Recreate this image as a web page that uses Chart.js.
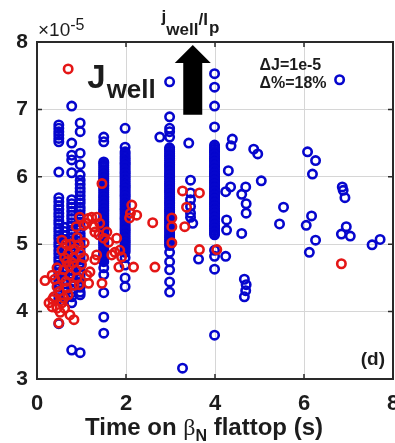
<!DOCTYPE html>
<html>
<head>
<meta charset="utf-8">
<script src="https://cdn.jsdelivr.net/npm/chart.js@4.4.1/dist/chart.umd.min.js"></script>
<style>
  html, body { margin: 0; padding: 0; background: #fff; }
  #wrap { width: 395px; height: 443px; position: relative; }
</style>
</head>
<body>
<div id="wrap"><canvas id="c"></canvas></div>
<script>
// Current-well depth J_well (in units of 1e-5) versus time spent on the beta_N flattop (s).

// Blue shots
const blueTime = [
  0.49,0.49,0.49,0.49,0.49,0.49,0.49,0.49,0.49,0.49,0.49,0.49,0.49,0.49,0.49,0.49,0.49,0.49,0.49,0.49,
  0.49,0.49,0.49,0.49,0.49,0.49,0.49,0.49,0.49,0.49,0.49,0.49,0.49,0.49,0.49,0.49,
  0.62,0.62,0.62,0.62,0.62,0.62,0.62,0.62,0.62,0.62,0.62,0.62,0.62,0.62,0.62,0.62,
  0.78,0.78,0.78,0.78,0.78,0.78,0.78,0.78,0.78,0.78,0.78,0.78,0.78,0.78,0.78,0.78,0.78,0.78,0.78,0.78,
  0.78,0.78,0.78,0.78,0.78,0.78,0.78,0.78,0.78,0.78,0.78,0.78,0.78,0.78,
  0.97,0.97,0.97,0.97,0.97,0.97,0.97,0.97,0.97,0.97,0.97,0.97,0.97,0.97,0.97,0.97,0.97,0.97,0.97,0.97,
  0.97,0.97,0.97,0.97,0.97,0.97,0.97,0.97,0.97,0.97,0.97,0.97,0.97,0.97,0.97,0.97,0.97,
  1.50,1.50,1.50,1.50,1.50,1.50,1.50,1.50,1.50,1.50,1.50,1.50,1.50,1.50,1.50,1.50,1.50,1.50,1.50,1.50,
  1.50,1.50,1.50,1.50,1.50,1.50,1.50,1.50,1.50,1.50,1.50,1.50,1.50,1.50,
  1.50,1.50,1.50,1.50,1.50,1.50,1.50,1.50,1.50,1.50,1.50,1.50,1.50,1.50,1.50,1.50,1.50,1.50,1.50,1.50,
  1.50,1.50,1.50,1.50,1.50,1.50,
  1.98,1.98,1.98,1.98,1.98,1.98,1.98,1.98,1.98,1.98,1.98,1.98,1.98,1.98,1.98,1.98,1.98,1.98,1.98,1.98,
  1.98,1.98,1.98,1.98,1.98,1.98,1.98,1.98,1.98,1.98,1.98,1.98,1.98,
  1.98,1.98,1.98,1.98,1.98,1.98,1.98,1.98,1.98,1.98,1.98,1.98,1.98,1.98,1.98,1.98,1.98,1.98,1.98,1.98,
  1.98,1.98,1.98,1.98,1.98,1.98,
  2.98,2.98,2.98,2.98,2.98,2.98,2.98,2.98,2.98,2.98,2.98,2.98,2.98,2.98,2.98,2.98,2.98,2.98,2.98,2.98,
  2.98,2.98,2.98,2.98,2.98,2.98,2.98,2.98,2.98,2.98,2.98,2.98,2.98,2.98,2.98,2.98,2.98,
  2.98,2.98,2.98,2.98,2.98,2.98,2.98,2.98,2.98,2.98,2.98,2.98,2.98,2.98,2.98,2.98,2.98,2.98,2.98,2.98,
  2.98,2.98,2.98,2.98,2.98,2.98,
  3.99,3.99,3.99,3.99,3.99,3.99,3.99,3.99,3.99,3.99,3.99,3.99,3.99,3.99,3.99,3.99,3.99,3.99,3.99,3.99,
  3.99,3.99,3.99,3.99,3.99,3.99,3.99,3.99,3.99,3.99,3.99,3.99,3.99,
  3.99,3.99,3.99,3.99,3.99,3.99,3.99,3.99,3.99,3.99,3.99,3.99,3.99,3.99,3.99,3.99,3.99,3.99,3.99,3.99,
  3.99,3.99,3.99,3.99,
  3.41,3.45,3.45,3.45,3.45,3.45,3.45,3.50,
  2.76,4.39,4.36,4.87,4.96,4.30,5.04,4.35,4.69,4.24,4.60,4.70,4.70,5.54,
  6.08,6.26,6.19,6.86,6.88,6.92,6.17,6.05,5.45,6.26,6.12,6.95,6.84,7.04,7.53,7.71,
  4.26,4.26,4.60,3.63,4.24,4.66,4.69,4.66,4.70,3.27,6.80
];
const blueJ = [
  6.77,6.72,6.67,6.62,6.57,6.52,6.07,5.69,5.63,5.57,5.52,5.46,5.41,5.35,5.30,5.24,5.19,5.13,5.08,5.02,
  4.97,4.91,4.86,4.80,4.75,4.69,4.64,4.58,4.53,4.47,4.42,4.36,4.31,4.25,4.19,3.82,
  5.25,5.19,5.13,5.07,5.01,4.95,4.89,4.83,4.77,4.71,4.65,4.59,4.53,4.47,4.41,4.35,
  7.05,6.50,6.32,6.25,6.06,5.66,5.60,5.55,5.49,5.43,5.38,5.32,5.27,5.21,5.16,5.10,5.05,4.99,4.94,4.88,
  4.83,4.77,4.72,4.66,4.61,4.55,4.50,4.44,4.39,4.33,4.28,4.22,4.13,3.43,
  6.80,6.67,6.35,6.18,6.03,5.95,5.89,5.83,5.78,5.72,5.66,5.61,5.55,5.50,5.44,5.38,5.33,5.27,5.22,5.16,
  5.11,5.05,4.99,4.94,4.88,4.83,4.77,4.72,4.66,4.60,4.55,4.49,4.43,4.36,4.29,4.25,3.39,
  6.59,6.52,6.22,6.17,6.11,6.05,6.00,5.94,5.88,5.83,5.77,5.71,5.66,5.60,5.54,5.49,5.43,5.37,5.32,5.26,
  5.20,5.15,5.09,5.03,4.98,4.92,4.86,4.81,4.74,4.65,4.55,4.28,3.92,3.68,
  6.20,6.14,6.08,6.03,5.97,5.91,5.86,5.80,5.74,5.69,5.63,5.57,5.51,5.46,5.40,5.34,5.29,5.23,5.18,5.12,
  5.06,5.01,4.95,4.89,4.84,4.78,
  6.72,6.44,6.37,6.30,6.24,6.19,6.13,6.07,6.02,5.96,5.90,5.85,5.79,5.73,5.68,5.62,5.56,5.51,5.45,5.39,
  5.34,5.28,5.22,5.17,5.11,5.05,5.00,4.94,4.88,4.80,4.69,4.50,4.37,
  6.34,6.27,6.21,6.16,6.10,6.05,5.99,5.93,5.87,5.82,5.76,5.71,5.65,5.59,5.53,5.48,5.42,5.37,5.31,5.25,
  5.20,5.14,5.08,5.03,4.97,4.91,
  7.41,6.89,6.72,6.67,6.59,6.43,6.38,6.32,6.27,6.21,6.16,6.10,6.04,5.99,5.93,5.88,5.82,5.77,5.71,5.65,
  5.60,5.54,5.49,5.43,5.37,5.32,5.26,5.21,5.15,5.10,5.04,4.98,4.88,4.74,4.62,4.44,4.29,
  6.41,6.35,6.30,6.24,6.18,6.13,6.07,6.02,5.96,5.90,5.85,5.79,5.74,5.68,5.62,5.57,5.51,5.46,5.40,5.35,
  5.29,5.24,5.18,5.12,5.07,5.01,
  7.53,7.33,7.05,6.74,6.47,6.41,6.36,6.30,6.25,6.19,6.14,6.08,6.03,5.97,5.92,5.86,5.81,5.75,5.70,5.64,
  5.59,5.53,5.48,5.42,5.37,5.31,5.26,5.20,5.14,4.91,4.82,4.63,3.65,
  6.44,6.38,6.33,6.27,6.22,6.16,6.11,6.05,6.00,5.94,5.89,5.83,5.78,5.72,5.67,5.61,5.56,5.50,5.45,5.39,
  5.34,5.28,5.23,5.17,
  6.50,5.95,5.76,5.66,5.56,5.46,5.40,5.31,
  6.59,6.56,6.46,6.41,6.34,6.09,5.94,5.85,5.85,5.78,5.74,5.60,5.46,5.55,
  6.37,6.24,6.04,5.85,5.80,5.69,5.42,5.28,5.30,5.06,4.88,5.26,5.15,5.12,4.99,5.07,
  5.36,5.21,5.16,4.78,4.82,4.48,4.31,4.22,4.40,3.16,7.44
];

// Red shots
const redTime = [
  0.70,1.46,
  0.96,1.15,1.23,1.34,1.12,1.41,1.05,1.28,0.88,
  2.13,2.10,2.24,2.08,2.60,3.03,3.03,3.03,
  3.36,3.27,3.65,3.32,3.65,4.04,2.65,2.17,6.84,
  1.30,1.39,1.50,1.61,1.75,1.68,1.86,1.90,1.79,1.84,1.57,1.30,1.34,1.46,1.19,1.16,1.12,
  0.56,0.56,0.94,1.06,0.97,0.83,0.67,0.45,0.34,0.18,0.56,0.74,0.90,0.83,0.67,0.45,0.38,0.27,0.34,0.45,
  0.52,0.56,0.74,0.83,0.49,0.60,0.72,0.80,0.88,0.62,0.70,0.85,0.75,0.65,0.95,0.40,0.50,0.60,0.70,1.00,
  1.05,0.35,0.62,0.90,0.65
];
const redJ = [
  7.60,5.90,
  5.40,5.38,5.40,5.40,5.31,5.31,5.28,5.26,5.26,
  5.58,5.46,5.43,5.39,5.32,5.39,5.26,5.02,
  5.55,5.79,5.76,5.26,4.92,4.92,4.66,4.66,4.71,
  5.18,5.14,5.09,5.03,4.88,4.84,4.91,4.81,5.09,4.66,5.18,4.77,4.84,4.42,4.59,4.42,4.54,
  5.06,4.91,4.99,5.02,4.87,4.80,4.74,4.65,4.54,4.46,4.51,4.54,4.50,4.39,4.35,4.37,4.22,4.13,4.07,4.05,
  3.99,4.13,3.95,3.88,3.83,4.62,4.68,4.72,4.62,4.80,4.86,4.93,5.00,4.45,4.40,4.48,4.30,4.20,4.25,4.70,
  4.80,4.18,4.05,5.10,5.00
];

// Axis ranges and tick labels
const xTicks = [0, 2, 4, 6, 8];
const yTicks = [3, 4, 5, 6, 7, 8];

const BLUE = 'rgb(6,6,205)';
const RED = 'rgb(228,22,22)';
const SANS = '"Liberation Sans", Arial, Helvetica, sans-serif';
const INK = '#1c1c1c';

function pts(xs, ys) { return xs.map((x, i) => ({ x: x, y: ys[i] })); }

function drawRun(ctx, x, parts) {
  for (const p of parts) {
    ctx.font = p.font;
    ctx.fillText(p.t, x + (p.dx || 0), p.y);
    x += (p.dx || 0) + ctx.measureText(p.t).width;
  }
  return x;
}

const framePlugin = {
  id: 'frame',
  afterDraw(chart) {
    const { ctx, chartArea: a, scales } = chart;
    const xs = scales.x, ys = scales.y;
    ctx.save();
    // axes box
    ctx.strokeStyle = '#2a2a2a';
    ctx.lineWidth = 2;
    ctx.strokeRect(a.left, a.top, a.right - a.left, a.bottom - a.top);
    // inward tick marks
    ctx.lineWidth = 1.5;
    ctx.beginPath();
    for (const v of yTicks) {
      const py = ys.getPixelForValue(v);
      ctx.moveTo(a.left, py); ctx.lineTo(a.left + 5, py);
      ctx.moveTo(a.right, py); ctx.lineTo(a.right - 5, py);
    }
    for (const v of xTicks) {
      const px = xs.getPixelForValue(v);
      ctx.moveTo(px, a.bottom); ctx.lineTo(px, a.bottom - 5);
      ctx.moveTo(px, a.top); ctx.lineTo(px, a.top + 5);
    }
    ctx.stroke();

    ctx.fillStyle = INK;
    ctx.textBaseline = 'alphabetic';
    ctx.textAlign = 'left';

    // exponent label above the y axis
    drawRun(ctx, a.left + 1, [
      { t: '\u00d710', font: '19px ' + SANS, y: a.top - 6 },
      { t: '-5', font: '16px ' + SANS, y: a.top - 12 }
    ]);

    // quantity label inside the plot
    drawRun(ctx, xs.getPixelForValue(1.13), [
      { t: 'J', font: 'bold 33px ' + SANS, y: ys.getPixelForValue(7.32) },
      { t: 'well', font: 'bold 26px ' + SANS, y: ys.getPixelForValue(7.17), dx: 1 }
    ]);

    // normalised-current label above the arrow
    drawRun(ctx, xs.getPixelForValue(2.8), [
      { t: 'j', font: 'bold 17px ' + SANS, y: 22 },
      { t: 'well', font: 'bold 17px ' + SANS, y: 35 },
      { t: '/I', font: 'bold 17px ' + SANS, y: 25 },
      { t: 'p', font: 'bold 17px ' + SANS, y: 33, dx: 1 }
    ]);

    // upward arrow
    const cx = xs.getPixelForValue(3.5);
    const tip = ys.getPixelForValue(7.955);
    const base = ys.getPixelForValue(7.69);
    const tail = ys.getPixelForValue(6.92);
    ctx.fillStyle = '#000';
    ctx.beginPath();
    ctx.moveTo(cx, tip);
    ctx.lineTo(cx + 18, base);
    ctx.lineTo(cx + 9.5, base);
    ctx.lineTo(cx + 9.5, tail);
    ctx.lineTo(cx - 9.5, tail);
    ctx.lineTo(cx - 9.5, base);
    ctx.lineTo(cx - 18, base);
    ctx.closePath();
    ctx.fill();

    // spread annotation
    ctx.fillStyle = INK;
    ctx.font = 'bold 16px ' + SANS;
    ctx.fillText('\u0394J=1e-5', xs.getPixelForValue(5.0), ys.getPixelForValue(7.58));
    ctx.fillText('\u0394%=18%', xs.getPixelForValue(5.0), ys.getPixelForValue(7.32));

    // panel tag
    ctx.font = 'bold 19px ' + SANS;
    ctx.textAlign = 'right';
    ctx.fillText('(d)', a.right - 8, a.bottom - 14);

    // x axis title with subscript
    ctx.textAlign = 'left';
    ctx.fillStyle = INK;
    const parts = [
      { t: 'Time on ', font: 'bold 24px ' + SANS, y: 435 },
      { t: '\u03b2', font: '24px "Liberation Serif", "DejaVu Serif", serif', y: 435 },
      { t: 'N', font: 'bold 16px ' + SANS, y: 441 },
      { t: ' flattop (s)', font: 'bold 24px ' + SANS, y: 435 }
    ];
    let w = 0;
    for (const p of parts) { ctx.font = p.font; w += ctx.measureText(p.t).width; }
    drawRun(ctx, 204 - w / 2, parts);
    ctx.restore();
  }
};

new Chart(document.getElementById('c'), {
  type: 'scatter',
  data: {
    datasets: [
      {
        label: 'red',
        data: pts(redTime, redJ),
        borderColor: RED,
        backgroundColor: 'rgba(0,0,0,0)',
        pointRadius: 4.2,
        pointBorderWidth: 2.6,
        order: 0
      },
      {
        label: 'blue',
        data: pts(blueTime, blueJ),
        borderColor: BLUE,
        backgroundColor: 'rgba(0,0,0,0)',
        pointRadius: 4.2,
        pointBorderWidth: 2.6,
        order: 1
      }
    ]
  },
  options: {
    responsive: true,
    maintainAspectRatio: false,
    animation: false,
    devicePixelRatio: 1,
    layout: { autoPadding: false, padding: { top: 42, right: 2, left: 0, bottom: 0 } },
    plugins: { legend: { display: false }, tooltip: { enabled: false } },
    scales: {
      x: {
        type: 'linear',
        min: 0, max: 8,
        afterBuildTicks(s) { s.ticks = xTicks.map(v => ({ value: v })); },
        ticks: { font: { family: SANS, size: 22, weight: 'bold' }, color: INK, padding: 12, maxRotation: 0, autoSkip: false },
        grid: { color: '#d6d6d6', lineWidth: 1, drawTicks: false },
        border: { display: false },
        afterFit(s) { s.height = 64; s.paddingLeft = 0; s.paddingRight = 0; }
      },
      y: {
        type: 'linear',
        min: 3, max: 8,
        afterBuildTicks(s) { s.ticks = yTicks.map(v => ({ value: v })); },
        ticks: { font: { family: SANS, size: 21, weight: 'bold' }, color: INK, padding: 9 },
        grid: { color: '#d6d6d6', lineWidth: 1, drawTicks: false },
        border: { display: false },
        afterFit(s) { s.width = 37; s.paddingTop = 0; s.paddingBottom = 0; }
      }
    }
  },
  plugins: [framePlugin]
});
</script>
</body>
</html>
